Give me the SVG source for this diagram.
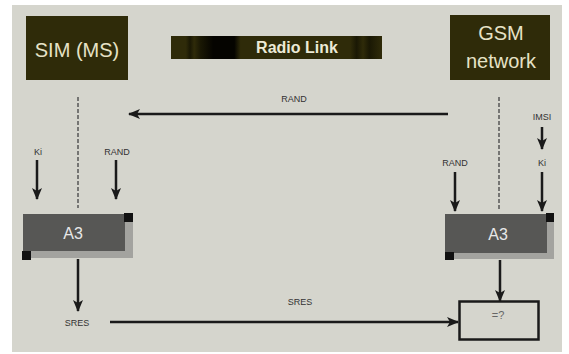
<svg xmlns="http://www.w3.org/2000/svg" width="569" height="354" viewBox="0 0 569 354">
<defs>
<style>
.bg{fill:#d5d5cd}
.head{fill:#2f2b09}
.headtxt{font-family:"Liberation Sans",Arial,sans-serif;font-size:20px;fill:#e6e2c6;text-anchor:middle}
.lbl{font-family:"Liberation Sans",Arial,sans-serif;font-size:9px;fill:#333;text-anchor:middle}
.a3{fill:#575755}
.a3sh{fill:#a3a39f}
.a3txt{font-family:"Liberation Sans",Arial,sans-serif;font-size:16px;fill:#e8e8e8;text-anchor:middle}
.corner{fill:#111}
.ln{stroke:#1a1a1a;stroke-width:2.5;fill:none}
.dash{stroke:#555;stroke-width:1.5;stroke-dasharray:4 2;fill:none}
</style>
<marker id="ah" viewBox="0 0 12 10" refX="11" refY="5" markerWidth="5" markerHeight="4" orient="auto" markerUnits="strokeWidth">
<path d="M0,0 L12,5 L0,10 L3,5 z" fill="#1a1a1a"/>
</marker>
<linearGradient id="radio" x1="0" y1="0" x2="1" y2="0">
<stop offset="0" stop-color="#2f2b09"/>
<stop offset="0.07" stop-color="#2f2b09"/>
<stop offset="0.09" stop-color="#1a1804"/>
<stop offset="0.11" stop-color="#2f2b09"/>
<stop offset="0.14" stop-color="#1a1804"/>
<stop offset="0.2" stop-color="#050400"/>
<stop offset="0.3" stop-color="#050400"/>
<stop offset="0.33" stop-color="#2f2b09"/>
<stop offset="0.85" stop-color="#2f2b09"/>
<stop offset="0.88" stop-color="#1a1804"/>
<stop offset="0.91" stop-color="#2f2b09"/>
<stop offset="0.94" stop-color="#1a1804"/>
<stop offset="1" stop-color="#2f2b09"/>
</linearGradient>
</defs>
<rect class="bg" x="12" y="5" width="550" height="347"/>

<g id="sim">
<rect class="head" x="26" y="16" width="102" height="64"/>
<text class="headtxt" x="77" y="57">SIM (MS)</text>
</g>

<g id="gsm">
<rect class="head" x="450" y="15" width="100" height="65"/>
<text class="headtxt" x="501" y="40">GSM</text>
<text class="headtxt" x="501" y="68">network</text>
</g>

<g id="radio-link">
<rect x="171" y="36" width="211" height="23" fill="url(#radio)"/>
<text x="297" y="53" font-family="Liberation Sans,Arial,sans-serif" font-size="16" font-weight="bold" fill="#ecead6" text-anchor="middle">Radio Link</text>
</g>

<g id="a3-left">
<rect class="a3sh" x="28" y="220" width="105" height="38"/>
<rect class="a3" x="23" y="214" width="102" height="37"/>
<rect class="corner" x="124" y="213" width="9" height="9"/>
<rect class="corner" x="22" y="251" width="9" height="9"/>
<text class="a3txt" x="73" y="239">A3</text>
</g>

<g id="a3-right">
<rect class="a3sh" x="450" y="220" width="104" height="39"/>
<rect class="a3" x="445" y="214" width="102" height="39"/>
<rect class="corner" x="546" y="213" width="8" height="9"/>
<rect class="corner" x="445" y="252" width="9" height="8"/>
<text class="a3txt" x="498" y="240">A3</text>
</g>

<g id="compare">
<rect x="459.5" y="301.5" width="79" height="38" fill="none" stroke="#1a1a1a" stroke-width="2.5"/>
<text x="498" y="319" font-family="Liberation Sans,Arial,sans-serif" font-size="11" fill="#666" text-anchor="middle">=?</text>
</g>

<g id="labels">
<text class="lbl" x="294" y="102">RAND</text>
<text class="lbl" x="38" y="155">Ki</text>
<text class="lbl" x="117" y="155">RAND</text>
<text class="lbl" x="77" y="326">SRES</text>
<text class="lbl" x="300" y="305">SRES</text>
<text class="lbl" x="455" y="166">RAND</text>
<text class="lbl" x="542" y="120">IMSI</text>
<text class="lbl" x="542" y="166">Ki</text>
</g>

<g id="connectors">
<line class="dash" x1="78" y1="97" x2="78" y2="208"/>
<line class="dash" x1="499" y1="97" x2="499" y2="210"/>
<line class="ln" x1="448" y1="114" x2="129" y2="114" marker-end="url(#ah)"/>
<line class="ln" x1="37" y1="160" x2="37" y2="199" marker-end="url(#ah)"/>
<line class="ln" x1="116" y1="160" x2="116" y2="199" marker-end="url(#ah)"/>
<line class="ln" x1="78" y1="259" x2="78" y2="311" marker-end="url(#ah)"/>
<line class="ln" x1="110" y1="322" x2="458" y2="322" marker-end="url(#ah)"/>
<line class="ln" x1="455" y1="172" x2="455" y2="211" marker-end="url(#ah)"/>
<line class="ln" x1="542" y1="127" x2="542" y2="149" marker-end="url(#ah)"/>
<line class="ln" x1="542" y1="172" x2="542" y2="211" marker-end="url(#ah)"/>
<line class="ln" x1="500" y1="260" x2="500" y2="301" marker-end="url(#ah)"/>
</g>
</svg>
